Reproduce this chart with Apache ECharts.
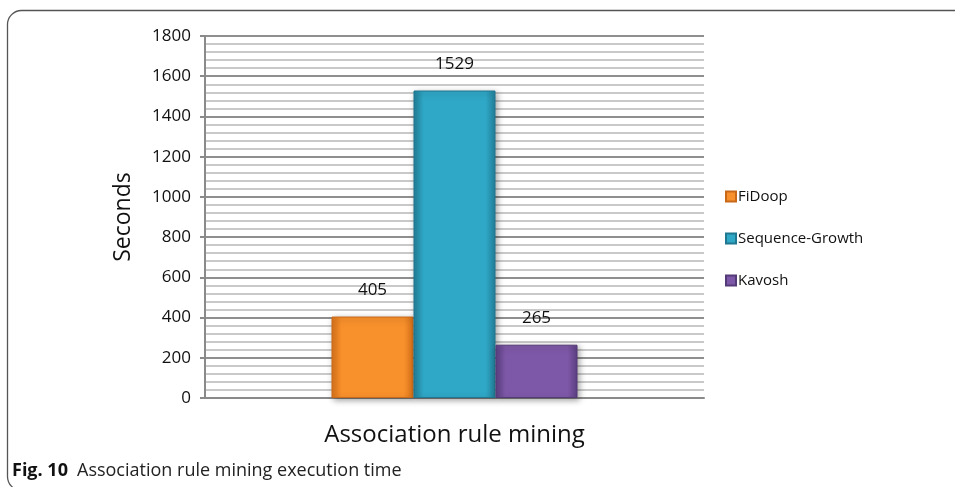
<!DOCTYPE html>
<html>
<head>
<meta charset="utf-8">
<script src="https://cdn.jsdelivr.net/npm/echarts@6/dist/echarts.min.js"></script>
<style>html,body{margin:0;padding:0;background:#fff}#c{width:955px;height:487px}</style>
</head>
<body>
<div id="c"></div>
<script>
const categories = ['Association rule mining'];
const seriesNames = ['FiDoop', 'Sequence-Growth', 'Kavosh'];
const fidoop = [405];
const sequenceGrowth = [1529];
const kavosh = [265];
const yTicks = [0, 200, 400, 600, 800, 1000, 1200, 1400, 1600, 1800];

const FONT = 'Open Sans';
function grad(edge, mid) {
  return new echarts.graphic.LinearGradient(0, 0, 1, 0, [
    {offset: 0, color: edge}, {offset: 0.12, color: mid},
    {offset: 0.88, color: mid}, {offset: 1, color: edge}
  ]);
}
const styles = [
  {color: grad('#d9731a', '#f8902c'), border: '#c8691a'},
  {color: grad('#237f99', '#2fa7c6'), border: '#1f7790'},
  {color: grad('#5c3f82', '#7e58a8'), border: '#553a78'}
];
const dataSets = [fidoop, sequenceGrowth, kavosh];

const chart = echarts.init(document.getElementById('c'));
chart.setOption({
  animation: false,
  backgroundColor: '#fff',
  grid: {left: 205, right: 251, top: 36, bottom: 89, containLabel: false},
  legend: {
    orient: 'vertical', left: 720, top: 184, itemWidth: 10, itemHeight: 10,
    itemGap: 27, icon: 'rect',
    textStyle: {fontFamily: FONT, fontSize: 15, color: '#111', padding: [0,0,0,-3]},
    data: seriesNames
  },
  xAxis: {
    type: 'category', data: categories,
    axisLine: {lineStyle: {color: '#8a8a8a', width: 2}},
    axisTick: {show: false},
    axisLabel: {fontFamily: FONT, fontSize: 24, color: '#111', margin: 25}
  },
  yAxis: {
    type: 'value', min: 0, max: 1800, interval: 200,
    name: 'Seconds', nameLocation: 'middle', nameGap: 70,
    nameTextStyle: {fontFamily: FONT, fontSize: 23, color: '#111'},
    axisLine: {show: true, lineStyle: {color: '#8a8a8a', width: 2}},
    axisTick: {show: true, length: 5, lineStyle: {color: '#8a8a8a', width: 2}},
    axisLabel: {fontFamily: FONT, fontSize: 17, color: '#111', margin: 14,
      formatter: v => yTicks.includes(v) ? String(v) : ''},
    splitLine: {show: true, lineStyle: {color: '#8f8f8f', width: 2}},
    minorTick: {show: false, splitNumber: 5},
    minorSplitLine: {show: true, lineStyle: {color: '#c9c9c9', width: 2}}
  },
  series: seriesNames.map((n, i) => ({
    name: n, type: 'bar', data: dataSets[i], barWidth: 82, barGap: '0%',
    itemStyle: {color: styles[i].color, borderColor: styles[i].border, borderWidth: 1,
      shadowColor: 'rgba(0,0,0,0.35)', shadowBlur: 6, shadowOffsetX: 2, shadowOffsetY: 2},
    label: {show: true, position: 'top', distance: 18, fontFamily: FONT, fontSize: 17, color: '#111'}
  })),
  graphic: [
    {type: 'rect', silent: true, z: -10,
      shape: {x: 7.5, y: 10.5, width: 1000, height: 480, r: 14},
      style: {fill: 'none', stroke: '#555', lineWidth: 1.3}},
    {type: 'text', left: 12, top: 462,
      style: {text: '{b|Fig. 10}{n|Association rule mining execution time}',
        rich: {b: {fontFamily: FONT, fontSize: 18, fontWeight: 'bold', fill: '#111', width: 65},
               n: {fontFamily: FONT, fontSize: 18, fill: '#222'}}}}
  ]
});
</script>
</body>
</html>
